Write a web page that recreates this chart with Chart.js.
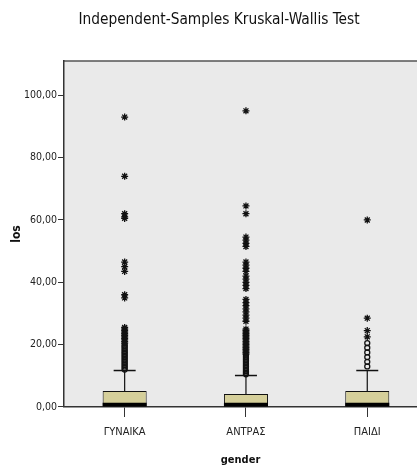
<!DOCTYPE html>
<html lang="el">
<head>
<meta charset="UTF-8">
<title>Independent-Samples Kruskal-Wallis Test</title>
<style>
  html, body { margin: 0; padding: 0; background: #fff; overflow: hidden; }
  #wrap { position: relative; width: 417px; height: 470px; }
</style>
</head>
<body>
<div id="wrap"><canvas id="chart"></canvas></div>
<script src="https://cdn.jsdelivr.net/npm/chart.js"></script>
<script>
    const categories = ['ΓΥΝΑΙΚΑ', 'ΑΝΤΡΑΣ', 'ΠΑΙΔΙ'];
    const q1 = [0, 0, 0];
    const median = [1.4, 1.4, 1.4];
    const q3 = [5.1, 4.2, 5.1];
    const whiskerHigh = [11.7, 10.1, 11.7];
    const yTicks = [0, 20, 40, 60, 80, 100];

    // extreme values (stars) per group
    const extremes = [
        [93, 74, 62, 61, 60.5, 46.5, 45, 43.5, 36, 35,
         25.5, 25, 24.5, 24, 23.5, 23, 22.5, 22, 21.5, 21, 20.5],
        [95, 64.5, 62, 54.5, 53.5, 52.5, 51.5, 46.5, 45.5, 44.5, 43.5, 42, 41, 40, 39, 38,
         34.5, 33.5, 32.5, 31.5, 30.5, 29.5, 28.5, 27.5, 25, 24.5, 24, 23.5, 23, 22.5, 22,
         21.5, 21, 20.5, 20, 19.5, 19, 18.5, 18, 17.5, 17],
        [60, 28.5, 24.5, 22.5]
    ];
    // outliers (circles) per group
    const outliers = [
        [20, 19.5, 19, 18.5, 18, 17.5, 17, 16.5, 16, 15.5, 15, 14.5, 14, 13.5, 13, 12.5, 12],
        [16.5, 16, 15.5, 15, 14.5, 14, 13.5, 13, 12.5, 12, 11.5, 11, 10.5],
        [20.5, 19, 17.5, 16, 14.5, 13]
    ];

    const narrow = "'Liberation Sans Narrow', 'DejaVu Sans Condensed', 'Liberation Sans', sans-serif";

    // grey plot area, top frame line (the right side is cut off in the original)
    const plotBackground = {
        id: 'plotBackground',
        beforeDraw(chart) {
            const {ctx, chartArea: {left, top, right, bottom}} = chart;
            ctx.save();
            ctx.fillStyle = '#EAEAEA';
            ctx.fillRect(left, top, right - left, bottom - top);
            ctx.strokeStyle = '#555';
            ctx.lineWidth = 1.5;
            ctx.beginPath();
            ctx.moveTo(left, top);
            ctx.lineTo(right, top);
            ctx.stroke();
            ctx.restore();
        }
    };

    const datasets = [];
    datasets.push({
        type: 'line', showLine: false, order: 0,
        data: extremes.flatMap((vals, i) => vals.map(v => ({x: i, y: v}))),
        pointStyle: 'star', pointRadius: 3.5, pointBorderColor: '#111', pointBorderWidth: 1.3,
        pointBackgroundColor: '#111'
    });
    datasets.push({
        type: 'line', showLine: false, order: 0,
        data: outliers.flatMap((vals, i) => vals.map(v => ({x: i, y: v}))),
        pointStyle: 'circle', pointRadius: 2.5, pointBorderColor: '#111', pointBorderWidth: 1.3,
        pointBackgroundColor: 'rgba(0,0,0,0)'
    });
    categories.forEach((c, i) => {
        datasets.push({
            type: 'line', order: 1,
            data: [{x: i, y: q3[i]}, {x: i, y: whiskerHigh[i]}],
            borderColor: '#111', borderWidth: 1.2,
            pointStyle: 'line', pointRadius: [0, 11], pointBorderColor: '#111', pointBorderWidth: 1.5
        });
    });
    datasets.push({
        type: 'bar', order: 2, grouped: false,
        data: categories.map((c, i) => ({x: i, y: [q1[i], median[i]]})),
        backgroundColor: '#000', borderWidth: 0,
        barPercentage: 0.363, categoryPercentage: 1
    });
    datasets.push({
        type: 'bar', order: 3, grouped: false,
        data: categories.map((c, i) => ({x: i, y: [q1[i], q3[i]]})),
        backgroundColor: '#D5CF9A', borderColor: '#111', borderWidth: 1, borderSkipped: false,
        barPercentage: 0.363, categoryPercentage: 1
    });

    new Chart(document.getElementById('chart'), {
        type: 'bar',
        data: { datasets: datasets },
        plugins: [plotBackground],
        options: {
            responsive: true,
            maintainAspectRatio: false,
            animation: false,
            layout: { autoPadding: false, padding: { left: 21, right: 0, top: 0, bottom: 0 } },
            plugins: {
                legend: { display: false },
                tooltip: { enabled: false },
                title: {
                    display: true,
                    text: 'Independent-Samples Kruskal-Wallis Test',
                    color: '#111',
                    font: { family: narrow, size: 15.3, weight: 'normal' },
                    padding: { top: 11, bottom: 31.6 }
                }
            },
            scales: {
                x: {
                    type: 'linear',
                    // third group's slot is cut by the picture's right edge
                    min: -0.5, max: 2.41,
                    offset: false,
                    afterBuildTicks: s => { s.ticks = categories.map((c, i) => ({value: i})); },
                    grid: { offset: false, drawOnChartArea: false, tickLength: 10, color: '#333' },
                    border: { display: true, color: '#333', width: 1.5 },
                    ticks: {
                        color: '#222', padding: 9, autoSkip: false, maxRotation: 0,
                        font: { family: narrow, size: 11 },
                        callback: v => categories[v] ?? ''
                    },
                    title: {
                        display: true, text: 'gender', color: '#111',
                        font: { family: narrow, size: 11, weight: 'bold' },
                        padding: { top: 0, bottom: 3 }
                    },
                    afterFit: s => { s.height = 63; }
                },
                y: {
                    min: 0, max: 111,
                    afterBuildTicks: s => { s.ticks = yTicks.map(v => ({value: v})); },
                    ticks: {
                        color: '#222', padding: 1,
                        font: { family: narrow, size: 10.5 },
                        callback: v => v.toFixed(2).replace('.', ',')
                    },
                    grid: { drawOnChartArea: false, tickLength: 6, color: '#333' },
                    border: { display: true, color: '#333', width: 1.5 },
                    title: {
                        display: true, text: 'los', color: '#111',
                        font: { family: narrow, size: 12, weight: 'bold' },
                        padding: { top: -11, bottom: 0 }
                    },
                    afterFit: s => { s.width = 43; }
                }
            }
        }
    });
</script>
</body>
</html>
